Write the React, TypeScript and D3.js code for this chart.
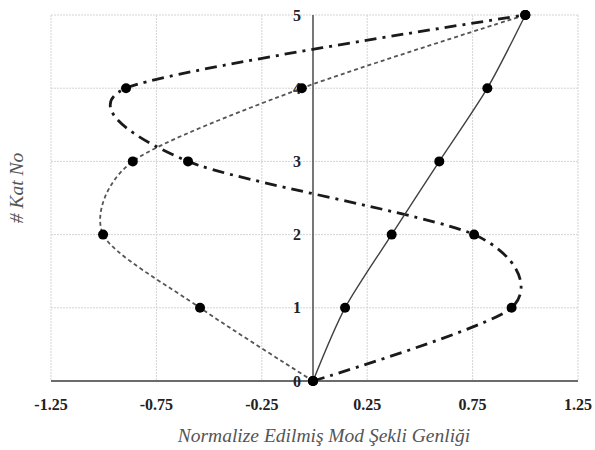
import React from "react";
import * as d3 from "d3";

const floors = [0, 1, 2, 3, 4, 5];
const mode1 = [0, 0.145, 0.366, 0.592, 0.82, 1.0];
const mode2 = [0, -0.543, -1.003, -0.862, -0.06, 1.0];
const mode3 = [0, 0.935, 0.757, -0.6, -0.894, 1.0];
const xTicks = [-1.25, -0.75, -0.25, 0.25, 0.75, 1.25];
const yTicks = [0, 1, 2, 3, 4, 5];
const xTitle = "Normalize Edilmiş Mod Şekli Genliği";
const yTitle = "# Kat No";

const W = 595;
const H = 450;
const L = 51, R = 578, T = 15, B = 381;

export default function App() {
  const x = d3.scaleLinear().domain([-1.25, 1.25]).range([L, R]);
  const y = d3.scaleLinear().domain([0, 5]).range([B, T]);
  const x0 = x(0) - 1.5;

  const line = d3
    .line<[number, number]>()
    .x((d) => (d[0] === 0 ? x0 : x(d[0])))
    .y((d) => y(d[1]))
    .curve(d3.curveCardinal.tension(0.2));

  const series = [
    { vals: mode2, stroke: "#555", width: 1.8, dash: "4,3" },
    { vals: mode3, stroke: "#1a1a1a", width: 2.8, dash: "12,6,3,6" },
    { vals: mode1, stroke: "#404040", width: 1.4, dash: "none" },
  ];

  const font = "'Liberation Serif', 'Times New Roman', serif";

  return (
    <div style={{ position: "absolute", left: 0, top: 0 }}>
      <svg width={W} height={H} style={{ display: "block", background: "#fff" }}>
        {xTicks.map((t) => (
          <line key={"gx" + t} x1={x(t)} x2={x(t)} y1={T} y2={B} stroke="#d4d4d4" strokeWidth={1} strokeDasharray="2,1" />
        ))}
        {yTicks.filter((t) => t !== 0).map((t) => (
          <line key={"gy" + t} x1={L} x2={R} y1={y(t)} y2={y(t)} stroke="#d4d4d4" strokeWidth={1} strokeDasharray="2,1" />
        ))}
        <line x1={L} x2={R} y1={B} y2={B} stroke="#3a3a3a" strokeWidth={1.6} />
        <line x1={x0} x2={x0} y1={T} y2={B} stroke="#555" strokeWidth={1.6} />
        {xTicks.map((t) => (
          <text key={"xt" + t} x={x(t)} y={410} textAnchor="middle" fontFamily={font} fontWeight={700} fontSize={16} fill="#222">
            {t.toFixed(2)}
          </text>
        ))}
        {yTicks.map((t) => (
          <text key={"yt" + t} x={301} y={y(t) + 5.5} textAnchor="end" fontFamily={font} fontWeight={700} fontSize={16} fill="#222">
            {t}
          </text>
        ))}
        {series.map((s, i) => (
          <path
            key={"s" + i}
            d={line(s.vals.map((v, j) => [v, floors[j]] as [number, number])) || ""}
            fill="none"
            stroke={s.stroke}
            strokeWidth={s.width}
            strokeDasharray={s.dash}
          />
        ))}
        {series.map((s, i) =>
          s.vals.map((v, j) => (
            <circle key={"p" + i + "-" + j} cx={v === 0 ? x0 : x(v)} cy={y(floors[j])} r={5} fill="#000" />
          ))
        )}
        <text x={324} y={442} textAnchor="middle" fontFamily={font} fontStyle="italic" fontSize={19.5} fill="#555">
          {xTitle}
        </text>
        <text
          transform={`translate(23,${188}) rotate(-90)`}
          textAnchor="middle"
          fontFamily={font}
          fontStyle="italic"
          fontSize={19.5}
          fill="#555"
        >
          {yTitle}
        </text>
      </svg>
    </div>
  );
}
